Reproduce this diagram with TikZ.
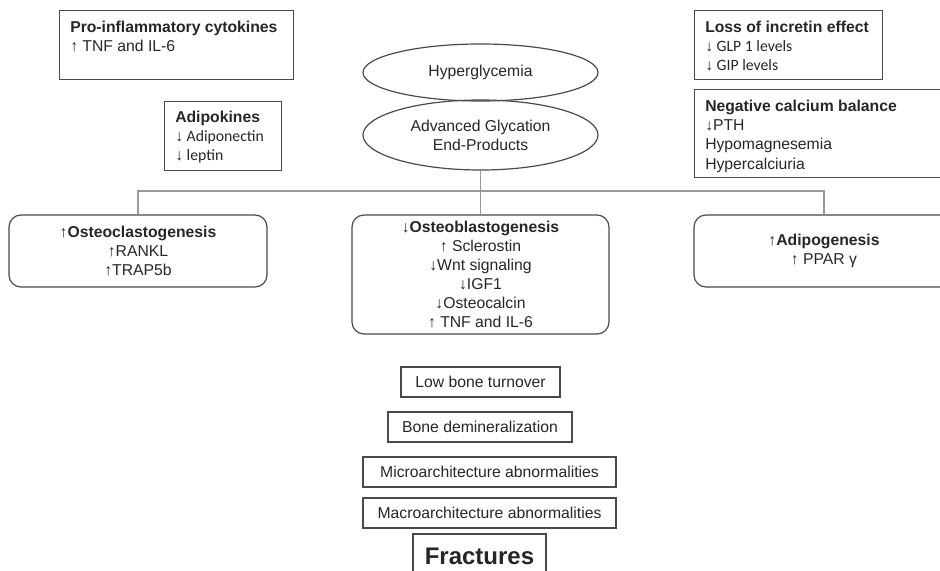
\documentclass[tikz,border=0pt]{standalone}
\usepackage{fontspec}
\setmainfont{Liberation Sans}
\newfontfamily\calfont{Carlito}
\newfontfamily\arrfont{Liberation Sans}
\usetikzlibrary{shapes.geometric}
\definecolor{boxgray}{HTML}{4A4A4A}
\definecolor{linkgray}{HTML}{9A9A9A}
\newcommand{\upa}{{\arrfont ↑}}
\newcommand{\dna}{{\arrfont ↓}}
\newcommand{\ttl}[1]{{\arrfont\bfseries #1}}
\begin{document}
\begin{tikzpicture}[x=0.75pt,y=-0.75pt,
  every node/.style={font=\fontsize{11.8}{14.25}\selectfont, text=black!85},
  sqbox/.style={draw=boxgray,line width=0.9pt,rectangle,anchor=north west,inner xsep=8pt,inner ysep=6pt,align=left},
  rbox/.style={draw=boxgray,line width=0.9pt,rounded corners=9pt,rectangle,align=center,inner sep=0pt},
  oval/.style={draw=boxgray,line width=0.9pt,ellipse,inner sep=0pt,align=center},
  flowbox/.style={draw=boxgray,line width=0.9pt,rectangle,inner sep=0pt},
  link/.style={draw=linkgray,line width=0.8pt}]
\useasboundingbox (0,0) rectangle (940,571);
\clip (0,0) rectangle (940,571);

% top left boxes
\node[sqbox] (cyto) at (59,10) {\parbox[c][39.75pt][t]{159.5pt}{\raggedright\vspace{1.5pt}
  \mbox{\textbf{Pro-inflammatory cytokines}}\\\upa\ TNF and IL-6}};
\node[sqbox] (adipok) at (164,101) {\calfont\parbox[c][39.75pt][t]{71.75pt}{\raggedright\vspace{1pt}
  \mbox{\ttl{Adipokines}}\\\mbox{\dna\ Adiponectin}\\\mbox{\dna\ leptin}}};

% top right boxes
\node[sqbox] (incr) at (694,10) {\calfont\parbox[c][39.75pt][t]{125pt}{\raggedright\vspace{1.5pt}
  \mbox{\ttl{Loss of incretin effect}}\\\mbox{\dna\ GLP 1 levels}\\\mbox{\dna\ GIP levels}}};
\node[sqbox, font=\fontsize{11.8}{14.5}\selectfont] (calc) at (694,89) {\parbox[c][54pt][t]{179pt}{\raggedright\vspace{1.5pt}
  \mbox{\textbf{Negative calcium balance}}\\\dna PTH\\Hypomagnesemia\\Hypercalciuria}};

% ellipses
\node[oval, minimum width=176.25pt, minimum height=42.75pt] (hyper) at (480.5,72.5) {Hyperglycemia};
\node[oval, minimum width=176.25pt, minimum height=52.5pt] (age) at (480.5,135) {Advanced Glycation\\End-Products};

% middle row
\node[rbox, minimum width=193.5pt, minimum height=54pt] (oc) at (138,251)
  {\upa\textbf{Osteoclastogenesis}\\\upa RANKL\\\upa TRAP5b};
\node[rbox, minimum width=192.75pt, minimum height=89.25pt] (ob) at (480.5,274.5)
  {\dna\textbf{Osteoblastogenesis}\\\upa\ Sclerostin\\\dna Wnt signaling\\\dna IGF1\\\dna Osteocalcin\\\upa\ TNF and IL-6};
\node[rbox, minimum width=195pt, minimum height=54pt] (adg) at (824,251)
  {\upa\textbf{Adipogenesis}\\\upa\ PPAR γ};

% connectors
\coordinate (bar) at (480.5,191);
\draw[link] (age.south) -- (ob.north);
\draw[link] (oc.north) |- (bar) -| (adg.north);

% bottom column
\node[flowbox, minimum width=119.25pt, minimum height=22.5pt] (turn) at (480.5,382) {Low bone turnover};
\node[flowbox, minimum width=138pt, minimum height=22.5pt] (demin) at (480,427) {Bone demineralization};
\node[flowbox, minimum width=189.75pt, minimum height=22.5pt] (micro) at (489.5,472) {Microarchitecture abnormalities};
\node[flowbox, minimum width=189.75pt, minimum height=22.5pt] (macro) at (489.5,513) {Macroarchitecture abnormalities};
\node[flowbox, minimum width=99.75pt, minimum height=33pt, font=\fontsize{18}{20}\selectfont\bfseries] (fract) at (479.5,556) {Fractures};
\end{tikzpicture}
\end{document}
